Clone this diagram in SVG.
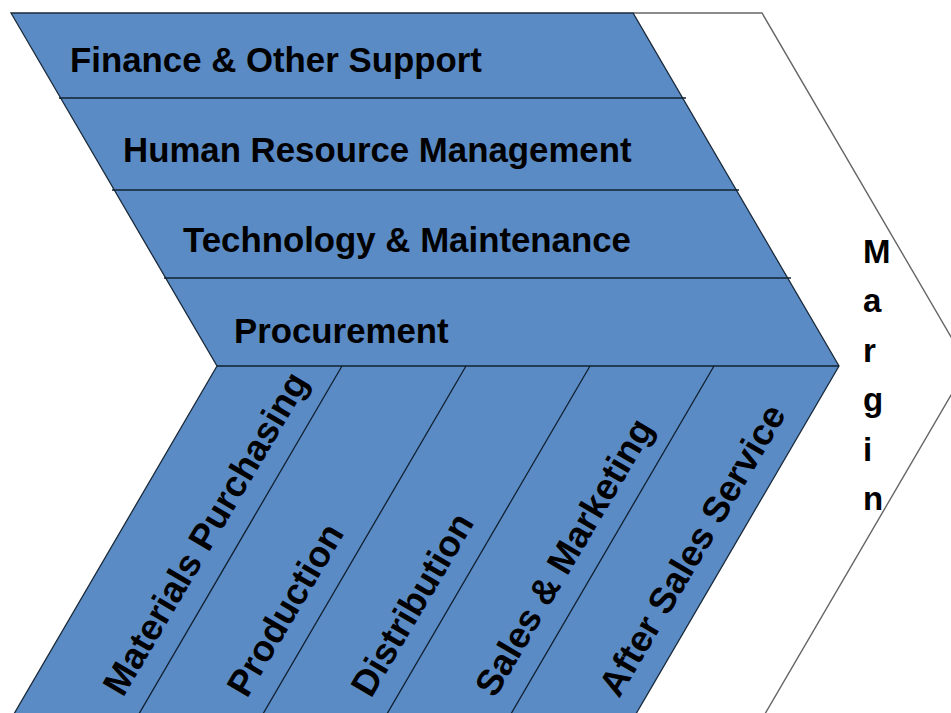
<svg xmlns="http://www.w3.org/2000/svg" width="951" height="713" viewBox="0 0 951 713">
<style>
.lbl{font-family:"Liberation Sans",Arial,sans-serif;font-weight:bold;font-size:34.8px;fill:#000}
.rot{font-family:"Liberation Sans",Arial,sans-serif;font-weight:bold;font-size:36.5px;fill:#000}
.mg{font-family:"Liberation Sans",Arial,sans-serif;font-weight:bold;font-size:33px;fill:#000}
.ln{stroke:#10202f;stroke-width:1.3;fill:none}
</style>
<rect width="951" height="713" fill="#fff"/>
<g id="margin">
<polyline points="633,13 762,13 968,366 762,719" fill="none" stroke="#666" stroke-width="1.4"/>
<text class="mg" x="863" y="263">M</text>
<text class="mg" x="863" y="312">a</text>
<text class="mg" x="863" y="362">r</text>
<text class="mg" x="863" y="411">g</text>
<text class="mg" x="863" y="461">i</text>
<text class="mg" x="863" y="510">n</text>
</g>
<g id="chain">
<polygon points="11,13 633,13 839,366 633,719 11,719 217,366" fill="#5B8BC5" stroke="#1a2a3a" stroke-width="1.3"/>
</g>
<g id="connectors">
<line class="ln" x1="59" y1="98" x2="686" y2="98"/>
<line class="ln" x1="112" y1="190" x2="739" y2="190"/>
<line class="ln" x1="164" y1="278" x2="791" y2="278"/>
<line class="ln" x1="217" y1="366" x2="839" y2="366"/>
<line class="ln" x1="342" y1="366" x2="136" y2="719"/>
<line class="ln" x1="466" y1="366" x2="260" y2="719"/>
<line class="ln" x1="590" y1="366" x2="384" y2="719"/>
<line class="ln" x1="714" y1="366" x2="508" y2="719"/>
</g>
<g id="finance"><text class="lbl" x="70" y="72">Finance &amp; Other Support</text></g>
<g id="hrm"><text class="lbl" x="123" y="162">Human Resource Management</text></g>
<g id="technology"><text class="lbl" x="183" y="252">Technology &amp; Maintenance</text></g>
<g id="procurement"><text class="lbl" x="234" y="343">Procurement</text></g>
<g id="materials"><text class="rot" transform="translate(123,698) rotate(-59.5)">Materials Purchasing</text></g>
<g id="production"><text class="rot" transform="translate(247,699) rotate(-59.5)">Production</text></g>
<g id="distribution"><text class="rot" transform="translate(371,699) rotate(-59.5)">Distribution</text></g>
<g id="sales"><text class="rot" transform="translate(495,699) rotate(-59.5)">Sales &amp; Marketing</text></g>
<g id="aftersales"><text class="rot" transform="translate(619,699) rotate(-59.5)">After Sales Service</text></g>
</svg>
